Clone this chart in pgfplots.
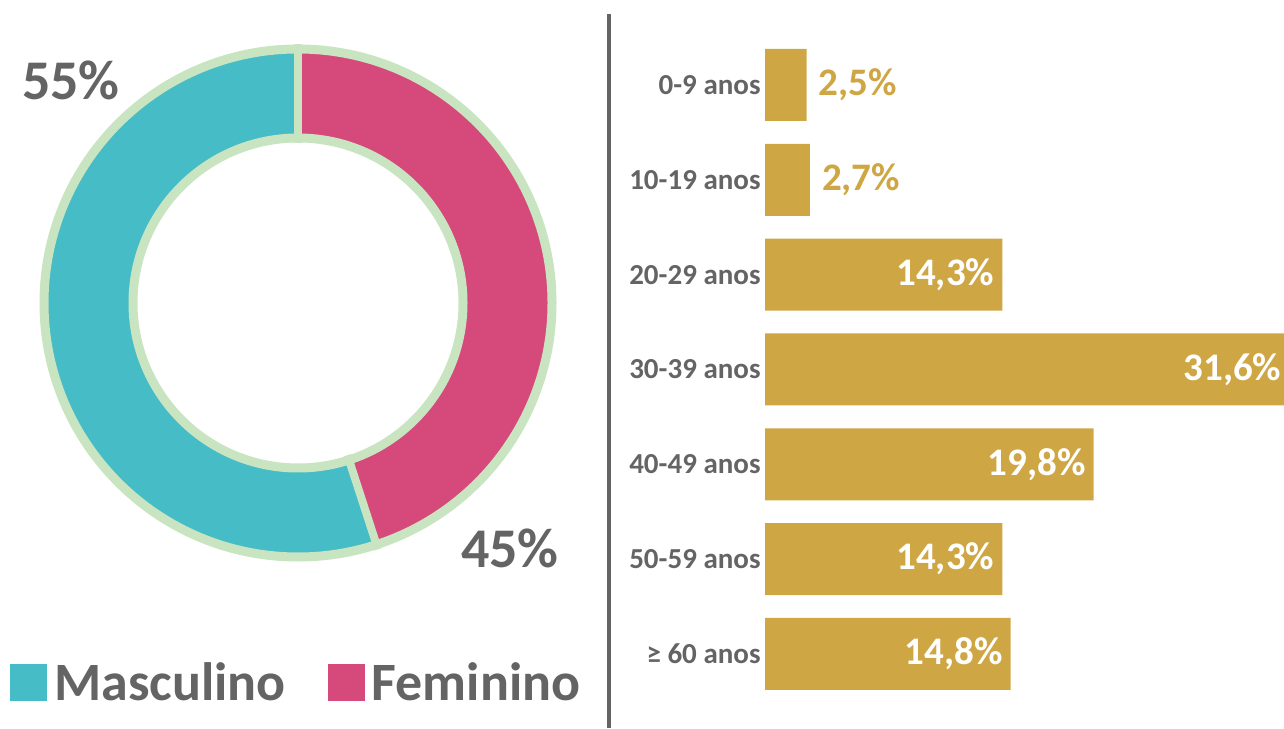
\documentclass[border=0pt]{standalone}
\usepackage{pgfplots}
\pgfplotsset{compat=1.18}
\usepackage{fontspec}
\setmainfont{Carlito}
\definecolor{masc}{HTML}{46BCC6}
\definecolor{fem}{HTML}{D6497B}
\definecolor{ringg}{HTML}{C9E4C0}
\definecolor{gold}{HTML}{CFA644}
\definecolor{txtg}{HTML}{646464}
\def\valMasc{55}
\def\valFem{45}
\begin{document}
\begin{tikzpicture}
\useasboundingbox (0,0) rectangle (1284pt,728pt);
\draw[line width=4pt, color=txtg] (609pt,0pt) -- (609pt,714pt);
\pgfmathsetmacro{\splitang}{90-3.6*\valFem}
\pgfmathsetmacro{\splitangB}{\splitang+360}
\begin{axis}[
  at={(298pt,425pt)}, anchor=center,
  x=1pt, y=1pt, xmin=-300, xmax=300, ymin=-300, ymax=300,
  hide axis, clip=false,
  legend columns=2,
  legend style={at={(axis cs:-288,-379)}, anchor=west, draw=none, fill=none, inner sep=0pt,
    font=\fontsize{54}{60}\selectfont\bfseries, text=txtg,
    /tikz/every even column/.append style={column sep=40pt}, column sep=5pt},
  legend image code/.code={\fill[#1] (0pt,-18.5pt) rectangle (37pt,18.5pt);},
]
\fill[masc] (axis cs:0,254) arc[start angle=90, end angle=\splitangB, radius=254pt]
  -- (axis cs:{165*cos(\splitang)},{165*sin(\splitang)}) arc[start angle=\splitangB, end angle=90, radius=165pt] -- cycle;
\fill[fem] (axis cs:0,254) arc[start angle=90, end angle=\splitang, radius=254pt]
  -- (axis cs:{165*cos(\splitang)},{165*sin(\splitang)}) arc[start angle=\splitang, end angle=90, radius=165pt] -- cycle;
\draw[ringg, line width=9pt] (axis cs:0,0) circle[radius=254pt];
\draw[ringg, line width=9pt] (axis cs:0,0) circle[radius=165pt];
\draw[ringg, line width=8pt] (axis cs:0,160) -- (axis cs:0,259);
\draw[ringg, line width=8pt] (axis cs:{160*cos(\splitang)},{160*sin(\splitang)}) -- (axis cs:{259*cos(\splitang)},{259*sin(\splitang)});
\node[text=txtg, font=\fontsize{56}{60}\selectfont\bfseries] at (axis cs:-227,223) {\valMasc\%};
\node[text=txtg, font=\fontsize{56}{60}\selectfont\bfseries] at (axis cs:212,-245) {\valFem\%};
\addlegendimage{fill=masc, draw=none}
\addlegendentry{Masculino}
\addlegendimage{fill=fem, draw=none}
\addlegendentry{Feminino}
\end{axis}
\begin{axis}[
  at={(765pt,26.6pt)}, anchor=south west,
  x=16.6pt, y=94.83pt,
  xmin=0, xmax=32, ymin=-0.5, ymax=6.5,
  xbar, bar width=72pt,
  axis line style={draw=none}, tick style={draw=none},
  xtick=\empty, ytick={0,1,2,3,4,5,6},
  yticklabels={{≥ 60 anos},{50-59 anos},{40-49 anos},{30-39 anos},{20-29 anos},{10-19 anos},{0-9 anos}},
  yticklabel style={font=\fontsize{29}{32}\selectfont\bfseries, text=txtg, inner sep=0pt, xshift=0pt},
  /pgf/number format/assume math mode=true,
  clip=false,
]
\addplot[fill=gold, draw=none, bar shift=0pt, point meta=x,
  nodes near coords={\pgfmathprintnumber[fixed, fixed zerofill, precision=1, use comma]{\pgfplotspointmeta}\%},
  every node near coord/.append style={anchor=west, inner sep=0pt, xshift=12pt, text=gold, font=\fontsize{39}{42}\selectfont\bfseries}]
  coordinates {(2.5,6) (2.7,5)};
\addplot[fill=gold, draw=none, bar shift=0pt, point meta=x,
  nodes near coords={\pgfmathprintnumber[fixed, fixed zerofill, precision=1, use comma]{\pgfplotspointmeta}\%},
  every node near coord/.append style={anchor=east, inner sep=0pt, xshift=-8pt, text=white, font=\fontsize{39}{42}\selectfont\bfseries}]
  coordinates {(14.3,4) (31.6,3) (19.8,2) (14.3,1) (14.8,0)};
\end{axis}
\end{tikzpicture}
\end{document}
